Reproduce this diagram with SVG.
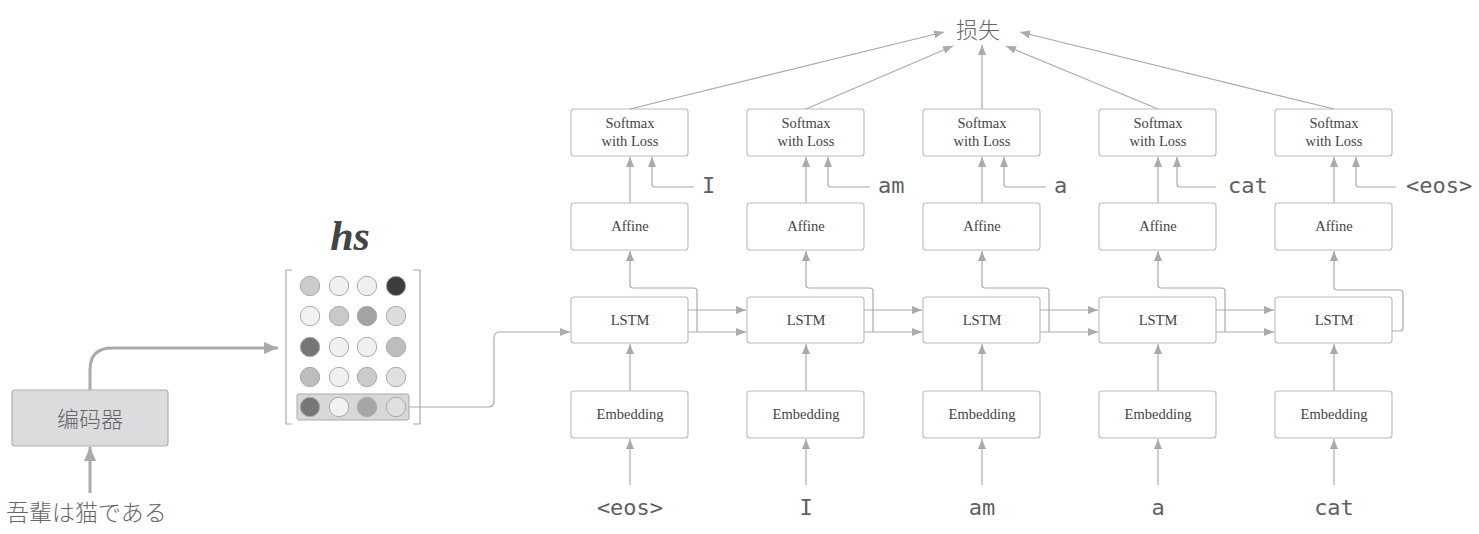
<svg xmlns="http://www.w3.org/2000/svg" width="1479" height="534" viewBox="0 0 1479 534">
<style>
.box{fill:#fff;stroke:#bbb;stroke-width:1.1}
.bt{font-family:"Liberation Serif","DejaVu Serif",serif;font-size:14.5px;fill:#444;text-anchor:middle}
.mono{font-family:"DejaVu Sans Mono","Liberation Mono",monospace;font-size:22px;fill:#5f5f5f}
.ln{fill:none;stroke:#aaa;stroke-width:1.2}
.cjk{font-family:"Noto Sans CJK JP","Noto Sans CJK SC",sans-serif;font-size:22px;fill:#666;font-weight:300}
.cir{stroke:#aaa;stroke-width:1}
</style>
<defs>
<marker id="a" viewBox="0 0 10 8" refX="10" refY="4" markerWidth="10" markerHeight="8" markerUnits="userSpaceOnUse" orient="auto"><path d="M0,0 L10,4 L0,8 z" fill="#aaa"/></marker>
<marker id="b" viewBox="0 0 14 12" refX="14" refY="6" markerWidth="14" markerHeight="12" markerUnits="userSpaceOnUse" orient="auto"><path d="M0,0 L14,6 L0,12 z" fill="#aaa"/></marker>
</defs>

<g id="encoder">
<rect x="12" y="390" width="156" height="56" rx="3" fill="#dcdcde" stroke="#b0b0b0" stroke-width="1.2"/>
<text class="cjk" x="90" y="427" text-anchor="middle">编码器</text>
</g>
<g id="input-ja">
<text class="cjk" x="6" y="521" style="font-size:23px">吾輩は猫である</text>
</g>

<g id="hs">
<text x="350" y="250" font-family="Liberation Serif,serif" font-weight="bold" font-style="italic" font-size="42" fill="#444" text-anchor="middle">hs</text>
<path d="M292,270 H286 V424 H292 M413,270 H420 V424 H413" fill="none" stroke="#aaa" stroke-width="1.2"/>
<rect x="297" y="394" width="112" height="26" rx="2" fill="#d8d8d8" stroke="#aaa" stroke-width="1"/>
<circle class="cir" cx="310" cy="286" r="9.7" fill="#cbcbcb"/>
<circle class="cir" cx="339" cy="286" r="9.7" fill="#f0f0f0"/>
<circle class="cir" cx="367" cy="286" r="9.7" fill="#f0f0f0"/>
<circle class="cir" cx="396" cy="286" r="9.7" fill="#3d3d3d"/>
<circle class="cir" cx="310" cy="316" r="9.7" fill="#f2f2f2"/>
<circle class="cir" cx="339" cy="316" r="9.7" fill="#c9c9c9"/>
<circle class="cir" cx="367" cy="316" r="9.7" fill="#a3a3a3"/>
<circle class="cir" cx="396" cy="316" r="9.7" fill="#dcdcdc"/>
<circle class="cir" cx="310" cy="347" r="9.7" fill="#767676"/>
<circle class="cir" cx="339" cy="347" r="9.7" fill="#f0f0f0"/>
<circle class="cir" cx="367" cy="347" r="9.7" fill="#f0f0f0"/>
<circle class="cir" cx="396" cy="347" r="9.7" fill="#bdbdbd"/>
<circle class="cir" cx="310" cy="377" r="9.7" fill="#bdbdbd"/>
<circle class="cir" cx="339" cy="377" r="9.7" fill="#f0f0f0"/>
<circle class="cir" cx="367" cy="377" r="9.7" fill="#cbcbcb"/>
<circle class="cir" cx="396" cy="377" r="9.7" fill="#e0e0e0"/>
<circle class="cir" cx="310" cy="407" r="9.7" fill="#777777"/>
<circle class="cir" cx="339" cy="407" r="9.7" fill="#f2f2f2"/>
<circle class="cir" cx="367" cy="407" r="9.7" fill="#a6a6a6"/>
<circle class="cir" cx="396" cy="407" r="9.7" fill="#e0e0e0"/>
</g>

<g id="loss"><text class="cjk" x="978" y="38" text-anchor="middle">损失</text></g>

<g id="col1">
<rect class="box" x="571" y="109" width="117" height="47" rx="3"/><text class="bt" x="630" y="128">Softmax</text><text class="bt" x="630" y="146">with Loss</text>
<rect class="box" x="571" y="203" width="117" height="47" rx="3"/><text class="bt" x="630" y="231">Affine</text>
<rect class="box" x="571" y="297" width="117" height="46" rx="3"/><text class="bt" x="630" y="325">LSTM</text>
<rect class="box" x="571" y="391" width="117" height="47" rx="3"/><text class="bt" x="630" y="419">Embedding</text>
<text class="mono" x="630" y="515" text-anchor="middle">&lt;eos&gt;</text>
<text class="mono" x="702" y="193">I</text>
</g>
<g id="col2">
<rect class="box" x="747" y="109" width="117" height="47" rx="3"/><text class="bt" x="806" y="128">Softmax</text><text class="bt" x="806" y="146">with Loss</text>
<rect class="box" x="747" y="203" width="117" height="47" rx="3"/><text class="bt" x="806" y="231">Affine</text>
<rect class="box" x="747" y="297" width="117" height="46" rx="3"/><text class="bt" x="806" y="325">LSTM</text>
<rect class="box" x="747" y="391" width="117" height="47" rx="3"/><text class="bt" x="806" y="419">Embedding</text>
<text class="mono" x="806" y="515" text-anchor="middle">I</text>
<text class="mono" x="878" y="193">am</text>
</g>
<g id="col3">
<rect class="box" x="923" y="109" width="117" height="47" rx="3"/><text class="bt" x="982" y="128">Softmax</text><text class="bt" x="982" y="146">with Loss</text>
<rect class="box" x="923" y="203" width="117" height="47" rx="3"/><text class="bt" x="982" y="231">Affine</text>
<rect class="box" x="923" y="297" width="117" height="46" rx="3"/><text class="bt" x="982" y="325">LSTM</text>
<rect class="box" x="923" y="391" width="117" height="47" rx="3"/><text class="bt" x="982" y="419">Embedding</text>
<text class="mono" x="982" y="515" text-anchor="middle">am</text>
<text class="mono" x="1054" y="193">a</text>
</g>
<g id="col4">
<rect class="box" x="1099" y="109" width="117" height="47" rx="3"/><text class="bt" x="1158" y="128">Softmax</text><text class="bt" x="1158" y="146">with Loss</text>
<rect class="box" x="1099" y="203" width="117" height="47" rx="3"/><text class="bt" x="1158" y="231">Affine</text>
<rect class="box" x="1099" y="297" width="117" height="46" rx="3"/><text class="bt" x="1158" y="325">LSTM</text>
<rect class="box" x="1099" y="391" width="117" height="47" rx="3"/><text class="bt" x="1158" y="419">Embedding</text>
<text class="mono" x="1158" y="515" text-anchor="middle">a</text>
<text class="mono" x="1228" y="193">cat</text>
</g>
<g id="col5">
<rect class="box" x="1275" y="109" width="117" height="47" rx="3"/><text class="bt" x="1334" y="128">Softmax</text><text class="bt" x="1334" y="146">with Loss</text>
<rect class="box" x="1275" y="203" width="117" height="47" rx="3"/><text class="bt" x="1334" y="231">Affine</text>
<rect class="box" x="1275" y="297" width="117" height="46" rx="3"/><text class="bt" x="1334" y="325">LSTM</text>
<rect class="box" x="1275" y="391" width="117" height="47" rx="3"/><text class="bt" x="1334" y="419">Embedding</text>
<text class="mono" x="1334" y="515" text-anchor="middle">cat</text>
<text class="mono" x="1406" y="193">&lt;eos&gt;</text>
</g>

<g id="connectors">
<path d="M90,493 V447" fill="none" stroke="#aaa" stroke-width="3" marker-end="url(#b)"/>
<path d="M90,390 V370 Q90,348 112,348 H278" fill="none" stroke="#aaa" stroke-width="3" marker-end="url(#b)"/>
<path class="ln" d="M409,407 H488 Q494,407 494,401 V338 Q494,332 500,332 H570" marker-end="url(#a)" stroke="#999"/>

<path class="ln" d="M630,485 V439" marker-end="url(#a)"/>
<path class="ln" d="M806,485 V439" marker-end="url(#a)"/>
<path class="ln" d="M982,485 V439" marker-end="url(#a)"/>
<path class="ln" d="M1158,485 V439" marker-end="url(#a)"/>
<path class="ln" d="M1334,485 V439" marker-end="url(#a)"/>

<path class="ln" d="M630,391 V344" marker-end="url(#a)"/>
<path class="ln" d="M806,391 V344" marker-end="url(#a)"/>
<path class="ln" d="M982,391 V344" marker-end="url(#a)"/>
<path class="ln" d="M1158,391 V344" marker-end="url(#a)"/>
<path class="ln" d="M1334,391 V344" marker-end="url(#a)"/>

<path class="ln" d="M688,310 H746" marker-end="url(#a)"/>
<path class="ln" d="M688,332 H746" marker-end="url(#a)"/>
<path class="ln" d="M864,310 H922" marker-end="url(#a)"/>
<path class="ln" d="M864,332 H922" marker-end="url(#a)"/>
<path class="ln" d="M1040,310 H1098" marker-end="url(#a)"/>
<path class="ln" d="M1040,332 H1098" marker-end="url(#a)"/>
<path class="ln" d="M1216,310 H1274" marker-end="url(#a)"/>
<path class="ln" d="M1216,332 H1274" marker-end="url(#a)"/>

<path class="ln" d="M697,332 V291 Q697,288 694,288 H633 Q630,288 630,285 V251" marker-end="url(#a)"/>
<path class="ln" d="M873,332 V291 Q873,288 870,288 H809 Q806,288 806,285 V251" marker-end="url(#a)"/>
<path class="ln" d="M1049,332 V291 Q1049,288 1046,288 H985 Q982,288 982,285 V251" marker-end="url(#a)"/>
<path class="ln" d="M1225,332 V291 Q1225,288 1222,288 H1161 Q1158,288 1158,285 V251" marker-end="url(#a)"/>
<path class="ln" d="M1392,331 H1400 Q1403,331 1403,328 V293 Q1403,290 1400,290 H1337 Q1334,290 1334,287 V251" marker-end="url(#a)"/>

<path class="ln" d="M630,203 V157" marker-end="url(#a)"/>
<path class="ln" d="M806,203 V157" marker-end="url(#a)"/>
<path class="ln" d="M982,203 V157" marker-end="url(#a)"/>
<path class="ln" d="M1158,203 V157" marker-end="url(#a)"/>
<path class="ln" d="M1334,203 V157" marker-end="url(#a)"/>

<path class="ln" d="M694,187 H655 Q652,187 652,184 V157" marker-end="url(#a)"/>
<path class="ln" d="M870,187 H831 Q828,187 828,184 V157" marker-end="url(#a)"/>
<path class="ln" d="M1046,187 H1007 Q1004,187 1004,184 V157" marker-end="url(#a)"/>
<path class="ln" d="M1216,187 H1180 Q1177,187 1177,184 V157" marker-end="url(#a)"/>
<path class="ln" d="M1396,187 H1359 Q1356,187 1356,184 V157" marker-end="url(#a)"/>

<path class="ln" d="M630,109 L944,32" marker-end="url(#a)"/>
<path class="ln" d="M806,109 L953,46" marker-end="url(#a)"/>
<path class="ln" d="M982,109 V45" marker-end="url(#a)"/>
<path class="ln" d="M1158,109 L1006,46" marker-end="url(#a)"/>
<path class="ln" d="M1334,109 L1020,32" marker-end="url(#a)"/>
</g>
</svg>
